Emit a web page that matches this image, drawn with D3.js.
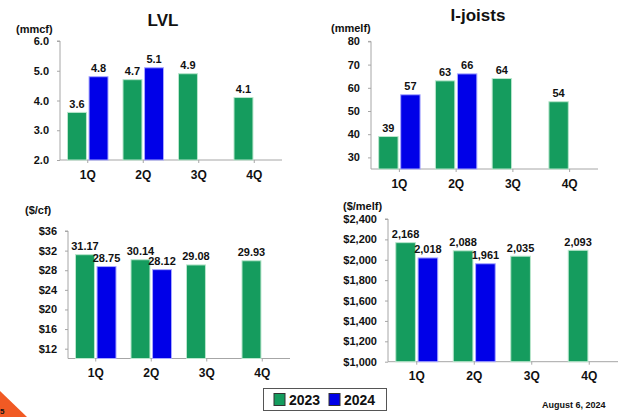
<!DOCTYPE html>
<html>
<head>
<meta charset="utf-8">
<script src="https://cdn.jsdelivr.net/npm/d3@7"></script>
<style>
  html, body { margin: 0; padding: 0; background: #fff; }
  svg { display: block; font-family: "Liberation Sans", Arial, sans-serif; }
  text { font-weight: bold; fill: #111; }
</style>
</head>
<body>
<svg id="chart" width="640" height="417"></svg>
<script>
// ---- data ----
const quarters = ["1Q", "2Q", "3Q", "4Q"];
const years = ["2023", "2024"];
const lvlVolume2023 = [3.6, 4.7, 4.9, 4.1];
const lvlVolume2024 = [4.8, 5.1, null, null];
const ijVolume2023 = [39, 63, 64, 54];
const ijVolume2024 = [57, 66, null, null];
const lvlPrice2023 = [31.17, 30.14, 29.08, 29.93];
const lvlPrice2024 = [28.75, 28.12, null, null];
const ijPrice2023 = [2168, 2088, 2035, 2093];
const ijPrice2024 = [2018, 1961, null, null];
const lvlVolumeTicks = [2, 3, 4, 5, 6];
const ijVolumeTicks = [30, 40, 50, 60, 70, 80];
const lvlPriceTicks = [12, 16, 20, 24, 28, 32, 36];
const ijPriceTicks = [1000, 1200, 1400, 1600, 1800, 2000, 2200, 2400];

const colors = { "2023": "#159C5E", "2024": "#0000E8" };
const strokes = { "2023": "#b9e6cc", "2024": "#a8a8ff" };

const svg = d3.select("#chart");

function drawPanel(cfg) {
  const g = svg.append("g");
  const x0 = d3.scaleBand().domain(quarters).range([cfg.left, cfg.right]);
  const y = d3.scaleLinear().domain(cfg.domain).range([cfg.bottom, cfg.top]);
  const bw = x0.bandwidth();
  const gw = bw * 0.73;
  const x1 = d3.scaleBand().domain(years).range([(bw - gw) / 2, (bw + gw) / 2]).paddingInner(0.12);

  // axes
  const yAxis = d3.axisLeft(y).tickValues(cfg.ticks).tickFormat(cfg.fmt).tickSize(3).tickPadding(8);
  const ya = g.append("g").attr("transform", `translate(${cfg.left},0)`).call(yAxis);
  ya.select(".domain").attr("stroke", "#a6a6a6").attr("d", `M-3,${y(cfg.domain[1])}H0V${cfg.bottom}`);
  ya.selectAll(".tick line").attr("stroke", "#a6a6a6");
  ya.selectAll(".tick text").attr("font-size", 11).attr("font-weight", "bold").attr("fill", "#111")
    .attr("font-family", "Liberation Sans, Arial, sans-serif");

  const xAxis = d3.axisBottom(x0).tickSize(3).tickPadding(7);
  const xa = g.append("g").attr("transform", `translate(0,${cfg.bottom})`).call(xAxis);
  xa.select(".domain").attr("stroke", "#a6a6a6").attr("d", `M${cfg.left},0H${cfg.right}`);
  xa.selectAll(".tick line").attr("stroke", "#a6a6a6");
  xa.selectAll(".tick text").attr("font-size", 12).attr("font-weight", "bold").attr("fill", "#111")
    .attr("font-family", "Liberation Sans, Arial, sans-serif");

  // bars
  const rows = [];
  quarters.forEach((q, i) => {
    if (cfg.s2023[i] != null) rows.push({ q, yr: "2023", v: cfg.s2023[i] });
    if (cfg.s2024[i] != null) rows.push({ q, yr: "2024", v: cfg.s2024[i] });
  });
  g.selectAll("rect.bar").data(rows).enter().append("rect")
    .attr("class", "bar")
    .attr("x", d => x0(d.q) + x1(d.yr))
    .attr("width", x1.bandwidth())
    .attr("y", d => y(d.v))
    .attr("height", d => cfg.bottom - y(d.v))
    .attr("fill", d => colors[d.yr])
    .attr("stroke", d => strokes[d.yr])
    .attr("stroke-width", 1);

  g.selectAll("text.val").data(rows).enter().append("text")
    .attr("class", "val")
    .attr("x", d => x0(d.q) + x1(d.yr) + x1.bandwidth() / 2)
    .attr("y", d => y(d.v) - 4.5)
    .attr("text-anchor", "middle")
    .attr("font-size", 11)
    .text(d => cfg.lab(d.v));

  // unit label
  g.append("text").attr("x", cfg.unitX).attr("y", cfg.unitY).attr("font-size", 11).text(cfg.unit);
  if (cfg.title) {
    g.append("text").attr("x", cfg.titleX).attr("y", cfg.titleY).attr("text-anchor", "middle")
      .attr("font-size", 17).text(cfg.title);
  }
}

drawPanel({
  left: 60, right: 282, top: 41, bottom: 160, domain: [2, 6], ticks: lvlVolumeTicks,
  fmt: d3.format(".1f"), lab: d3.format(".1f"), s2023: lvlVolume2023, s2024: lvlVolume2024,
  unit: "(mmcf)", unitX: 16, unitY: 33, title: "LVL", titleX: 163, titleY: 26
});
drawPanel({
  left: 371, right: 598, top: 41.4, bottom: 169, domain: [25, 80], ticks: ijVolumeTicks,
  fmt: d3.format("d"), lab: d3.format("d"), s2023: ijVolume2023, s2024: ijVolume2024,
  unit: "(mmelf)", unitX: 331, unitY: 32, title: "I-joists", titleX: 478, titleY: 21
});
drawPanel({
  left: 68, right: 290, top: 231, bottom: 358.5, domain: [10, 36], ticks: lvlPriceTicks,
  fmt: d => "$" + d, lab: d3.format(".2f"), s2023: lvlPrice2023, s2024: lvlPrice2024,
  unit: "($/cf)", unitX: 25, unitY: 214
});
drawPanel({
  left: 388, right: 618, top: 219, bottom: 361.7, domain: [1000, 2400], ticks: ijPriceTicks,
  fmt: d => "$" + d3.format(",")(d), lab: d3.format(","), s2023: ijPrice2023, s2024: ijPrice2024,
  unit: "($/melf)", unitX: 343, unitY: 210
});

// legend
const lg = svg.append("g");
lg.append("rect").attr("x", 263.5).attr("y", 388.5).attr("width", 123).attr("height", 22)
  .attr("fill", "#fff").attr("stroke", "#555").attr("stroke-width", 1);
years.forEach((yr, i) => {
  const bx = 274 + i * 55;
  lg.append("rect").attr("x", bx).attr("y", 393.5).attr("width", 11).attr("height", 12)
    .attr("fill", colors[yr]).attr("stroke", "#333").attr("stroke-width", 1);
  lg.append("text").attr("x", bx + 15).attr("y", 405).attr("font-size", 14).text(yr);
});

// date
svg.append("text").attr("x", 542).attr("y", 408).attr("font-size", 9).text("August 6, 2024");

// corner decoration
svg.append("path").attr("d", "M0,391L27,417L0,417Z").attr("fill", "#F15A24");
svg.append("text").attr("x", 0).attr("y", 414).attr("font-size", 8).attr("fill", "#111").text("5");
</script>
</body>
</html>
